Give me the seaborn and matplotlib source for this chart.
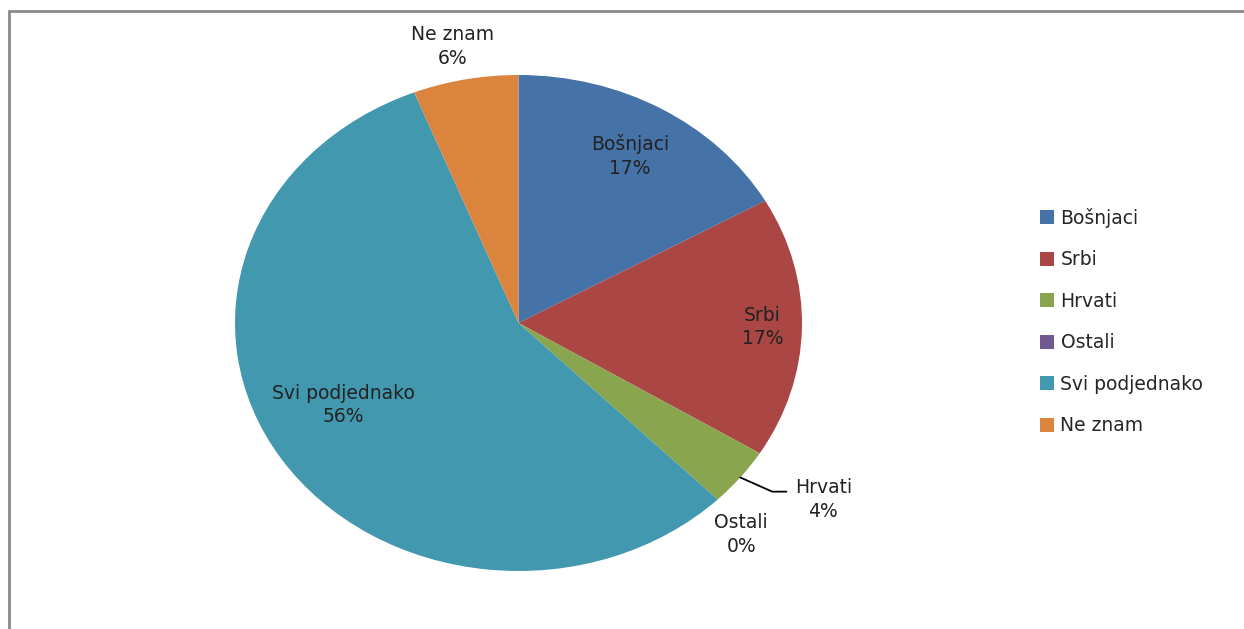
import matplotlib

matplotlib.use("Agg")
import matplotlib.pyplot as plt
import numpy as np
import seaborn as sns
from matplotlib.patches import Rectangle

sns.set_style("white")
plt.rcParams["font.family"] = ["DejaVu Sans"]

# Data
categories = ["Bošnjaci", "Srbi", "Hrvati", "Ostali", "Svi podjednako", "Ne znam"]
shares = [16.8, 17.0, 3.8, 0.0, 56.4, 6.0]
colors = ["#4572A7", "#AA4643", "#89A54E", "#71588F", "#4198AF", "#DB843D"]

# label placement: radius factor and small angle nudge (degrees)
label_radius = [0.78, 0.86, 1.29, 1.16, 0.70, 1.14]
label_nudge = [0, 0, 5, -2, -5, 1]

fig = plt.figure(figsize=(12.44, 6.29), dpi=100)

# outer chart frame (runs off the right and bottom edge like the screenshot)
fig.patches.append(
    Rectangle((9 / 1244, -0.05), 1.05, 1 - 11 / 629 + 0.05,
              transform=fig.transFigure, fill=False,
              edgecolor="#8a8a8a", linewidth=2.0)
)

# pie is stretched horizontally in the source, so use a non-equal aspect axes
ax = fig.add_axes([235 / 1244, 58 / 629, 567 / 1244, 496 / 629])
wedges, _ = ax.pie(
    shares,
    colors=colors,
    startangle=90,
    counterclock=False,
    wedgeprops={"linewidth": 0},
)
ax.set_aspect("auto")
ax.set_xlim(-1, 1)
ax.set_ylim(-1, 1)
ax.axis("off")

for w, name, val, r, nudge in zip(wedges, categories, shares, label_radius, label_nudge):
    ang = np.deg2rad((w.theta1 + w.theta2) / 2 + nudge)
    x, y = r * np.cos(ang), r * np.sin(ang)
    ax.text(x, y, f"{name}\n{val:.0f}%", ha="center", va="center",
            fontsize=13.5, color="#222222", linespacing=1.3)

# leader line for the small Hrvati slice
hr = wedges[2]
ha = np.deg2rad((hr.theta1 + hr.theta2) / 2)
ax.plot([np.cos(ha), 0.895, 0.945], [np.sin(ha), -0.68, -0.68],
        color="black", linewidth=1.3, clip_on=False)

fig.legend(
    wedges, categories,
    loc="upper left",
    bbox_to_anchor=(1023 / 1244, 1 - 191 / 629),
    frameon=False,
    fontsize=13.5,
    handlelength=0.75,
    handleheight=0.75,
    handletextpad=0.35,
    labelspacing=1.2,
)

fig.savefig("out.png", dpi=100)
